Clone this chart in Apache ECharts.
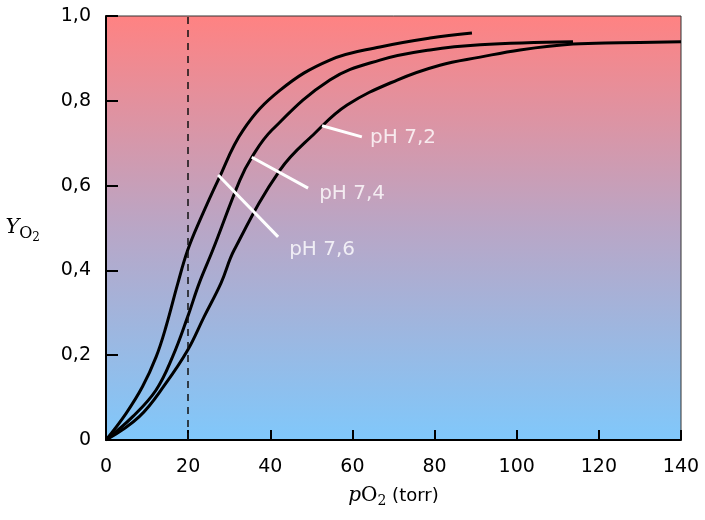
<!DOCTYPE html>
<html>
<head>
<meta charset="utf-8">
<script src="https://cdn.jsdelivr.net/npm/echarts@6/dist/echarts.min.js"></script>
<style>html,body{margin:0;padding:0;background:#fff}#c{width:705px;height:520px}</style>
</head>
<body>
<div id="c"></div>
<script>
// Data
const pH76 = [[0,0],[4.9,0.063],[8.9,0.126],[12.2,0.196],[14.6,0.267],[17.5,0.37],[19.9,0.448],[22.9,0.519],[27.3,0.613],[33.4,0.731],[42.4,0.825],[54.5,0.896],[66.7,0.927],[78.9,0.948],[89.1,0.96]];
const pH74 = [[0,0],[6.5,0.055],[12.2,0.118],[16.2,0.196],[19.9,0.291],[22.7,0.37],[26,0.448],[32.6,0.613],[35.5,0.667],[40.4,0.731],[54.5,0.849],[66.7,0.896],[78.9,0.92],[91.1,0.932],[113.7,0.939]];
const pH72 = [[0,0],[8.1,0.055],[14.6,0.134],[19.9,0.212],[23.9,0.291],[28,0.37],[31.2,0.448],[42.4,0.637],[50.9,0.724],[58.7,0.79],[70.9,0.849],[81.3,0.884],[91.1,0.903],[100.8,0.92],[113.7,0.934],[125.1,0.937],[140,0.939]];
const refX = 20;
// annotations: label, point on curve, end of leader line, text anchor
const annLabels = ['pH 7,2', 'pH 7,4', 'pH 7,6'];
const annStart = [[52.6,0.741],[35.5,0.667],[27.3,0.625]];
const annEnd = [[62.3,0.715],[49.2,0.594],[41.9,0.479]];
const annText = [[64.3,0.712],[51.9,0.58],[44.6,0.448]];
const xTicks = [0,20,40,60,80,100,120,140];
const yTicks = [0,0.2,0.4,0.6,0.8,1.0];

const chart = echarts.init(document.getElementById('c'));
const curveStyle = {color:'#000', width:3};
function curve(name, data){
  return {name, type:'line', data, showSymbol:false, smooth:0.4,
    lineStyle:curveStyle, z:3, silent:true};
}
const series = [curve('pH 7,6', pH76), curve('pH 7,4', pH74), curve('pH 7,2', pH72)];
series.push({
  type:'line', data:[], silent:true,
  markLine:{silent:true, symbol:'none', label:{show:false},
    lineStyle:{color:'#111', type:[7,6], width:1.5},
    data:[{xAxis:refX}]}
});
annLabels.forEach((lab,i)=>{
  series.push({type:'line', data:[annStart[i], annEnd[i]], showSymbol:false, silent:true,
    lineStyle:{color:'#fff', width:3}, z:4});
  series.push({type:'scatter', data:[annText[i]], symbolSize:0, silent:true, z:5,
    label:{show:true, position:'right', distance:0, formatter:lab, color:'#fff',
      fontFamily:'DejaVu Sans', fontSize:20}});
});

chart.setOption({
  animation:false,
  grid:{left:106, right:24, top:16, bottom:80, show:true, borderColor:'#333', borderWidth:1,
    backgroundColor: new echarts.graphic.LinearGradient(0,0,0,1,[
      {offset:0, color:'#ff8282'},
      {offset:0.5, color:'#b9a6c6'},
      {offset:1, color:'#80c8fb'}])},
  xAxis:{type:'value', min:0, max:140, interval:20,
    axisLine:{show:true, lineStyle:{color:'#000', width:2}},
    axisTick:{show:true, inside:true, length:10, lineStyle:{color:'#000', width:2}},
    splitLine:{show:false},
    axisLabel:{color:'#000', fontFamily:'DejaVu Sans', fontSize:19, margin:18,
      formatter:v=>xTicks.includes(v)?String(v):''},
    name:'{i|p}{r|O}{s|2}{t| (torr)}', nameLocation:'middle', nameGap:44,
    nameTextStyle:{rich:{
      i:{fontFamily:'DejaVu Serif', fontStyle:'italic', fontSize:20, color:'#000'},
      r:{fontFamily:'DejaVu Serif', fontSize:20, color:'#000'},
      s:{fontFamily:'DejaVu Serif', fontSize:14, color:'#000', padding:[10,0,0,0]},
      t:{fontFamily:'DejaVu Sans', fontSize:18, color:'#000'}}}
  },
  yAxis:{type:'value', min:0, max:1, interval:0.2,
    axisLine:{show:true, lineStyle:{color:'#000', width:2}},
    axisTick:{show:true, inside:true, length:12, lineStyle:{color:'#000', width:2}},
    splitLine:{show:false},
    axisLabel:{color:'#000', fontFamily:'DejaVu Sans', fontSize:19, margin:15,
      formatter:v=>{const t=yTicks.find(k=>Math.abs(k-v)<1e-6); if(t===undefined) return ''; return t===0?'0':t.toFixed(1).replace('.',',');}},
    name:'{i|Y}{s|O}{ss|2}', nameLocation:'middle', nameGap:66, nameRotate:0,
    nameTextStyle:{align:'right', rich:{
      i:{fontFamily:'DejaVu Serif', fontStyle:'italic', fontSize:21, color:'#000'},
      s:{fontFamily:'DejaVu Serif', fontSize:16, color:'#000', padding:[12,0,0,0]},
      ss:{fontFamily:'DejaVu Serif', fontSize:12, color:'#000', padding:[20,0,0,0]}}}
  },
  series
});
</script>
</body>
</html>
